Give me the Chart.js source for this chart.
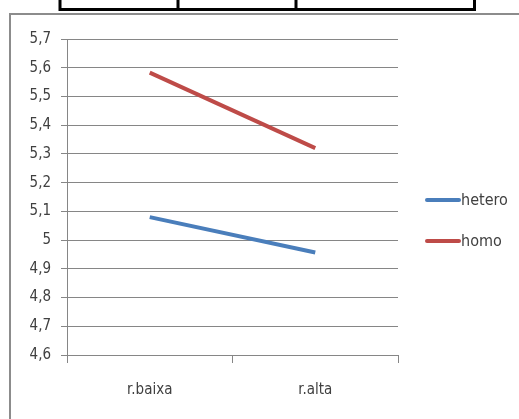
<!DOCTYPE html>
<html>
<head>
<meta charset="utf-8">
<script src="https://cdn.jsdelivr.net/npm/chart.js@4"></script>
<style>
  html, body { margin: 0; padding: 0; background: #fff; }
  #wrap { width: 519px; height: 419px; position: relative; }
</style>
</head>
<body>
<div id="wrap"><canvas id="chart" width="519" height="419"></canvas></div>
<script>
const categories = ['r.baixa', 'r.alta'];
const heteroValues = [5.08, 4.957];
const homoValues = [5.583, 5.32];
const seriesNames = ['hetero', 'homo'];
const seriesColors = ['#4A7EBB', '#BE4B48'];

const fontFamily = "'Liberation Sans Narrow', 'DejaVu Sans Condensed', 'Liberation Sans', sans-serif";
const textColor = '#404040';
const gridColor = '#868686';

// frame around the chart and the bottom of the table above it
const framePlugin = {
  id: 'frame',
  beforeDraw(chart) {
    const ctx = chart.ctx;
    ctx.save();
    ctx.fillStyle = '#fff';
    ctx.fillRect(0, 0, chart.width, chart.height);
    ctx.strokeStyle = '#000';
    ctx.lineWidth = 3;
    ctx.beginPath();
    ctx.moveTo(59, 9.5);
    ctx.lineTo(476, 9.5);
    [60, 178, 296, 474.5].forEach(x => {
      ctx.moveTo(x, 0);
      ctx.lineTo(x, 11);
    });
    ctx.stroke();
    ctx.strokeStyle = '#8c8c8c';
    ctx.lineWidth = 2;
    ctx.beginPath();
    ctx.moveTo(10, chart.height);
    ctx.lineTo(10, 14);
    ctx.lineTo(chart.width, 14);
    ctx.stroke();
    ctx.restore();
  }
};

// legend on the right, drawn from the datasets
const legendPlugin = {
  id: 'sideLegend',
  afterDraw(chart) {
    const ctx = chart.ctx;
    ctx.save();
    ctx.font = '16px ' + fontFamily;
    ctx.textBaseline = 'middle';
    chart.data.datasets.forEach((ds, i) => {
      const y = 200 + i * 41;
      ctx.strokeStyle = ds.borderColor;
      ctx.lineWidth = 4;
      ctx.lineCap = 'round';
      ctx.beginPath();
      ctx.moveTo(427, y);
      ctx.lineTo(459, y);
      ctx.stroke();
      ctx.fillStyle = textColor;
      ctx.fillText(ds.label, 461, y + 1);
    });
    ctx.restore();
  }
};

const config = {
  type: 'line',
  data: {
    labels: categories,
    datasets: [
      {
        label: seriesNames[0],
        data: heteroValues,
        borderColor: seriesColors[0],
        backgroundColor: seriesColors[0],
        borderWidth: 4,
        pointRadius: 0,
        tension: 0,
      },
      {
        label: seriesNames[1],
        data: homoValues,
        borderColor: seriesColors[1],
        backgroundColor: seriesColors[1],
        borderWidth: 4,
        pointRadius: 0,
        tension: 0,
      },
    ],
  },
  options: {
    responsive: false,
    animation: false,
    layout: { padding: { left: 0, top: 39, right: 121, bottom: 0 } },
    plugins: {
      legend: { display: false },
      tooltip: { enabled: false },
    },
    scales: {
      x: {
        offset: true,
        grid: {
          offset: true,
          drawOnChartArea: false,
          drawTicks: true,
          tickLength: 8,
          color: gridColor,
        },
        border: { color: gridColor, width: 1 },
        ticks: {
          color: textColor,
          font: { family: fontFamily, size: 15 },
          padding: 18,
        },
        afterFit: s => { s.height = 64; },
      },
      y: {
        min: 4.6,
        max: 5.7,
        grid: {
          color: gridColor,
          tickLength: 6,
        },
        border: { color: gridColor, width: 1 },
        ticks: {
          stepSize: 0.1,
          color: textColor,
          font: { family: fontFamily, size: 15 },
          padding: 10,
          callback: v => String(Math.round(v * 10) / 10).replace('.', ','),
        },
        afterFit: s => { s.width = 67; },
      },
    },
  },
  plugins: [framePlugin, legendPlugin],
};

const myChart = new Chart(document.getElementById('chart'), config);
</script>
</body>
</html>
